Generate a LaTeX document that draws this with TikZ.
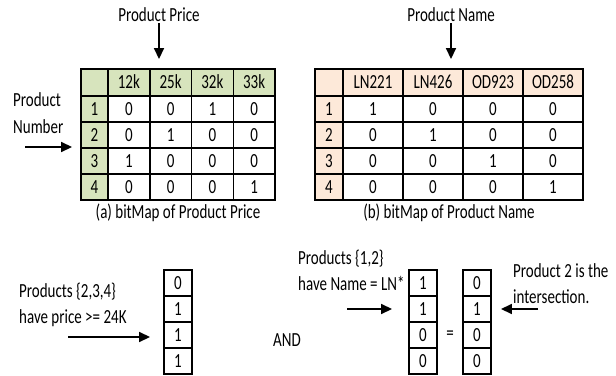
\documentclass[tikz,border=0pt]{standalone}
\usepackage{fontspec}
\setmainfont{Carlito}[FakeStretch=0.75]
\usetikzlibrary{matrix, positioning, arrows.meta}
\definecolor{pricegreen}{RGB}{215,228,189}
\definecolor{namepeach}{RGB}{253,233,217}
\tikzset{
  mcell/.style={draw, line width=1.5bp, minimum height=26bp, inner sep=0pt,
                text height=12.5bp, text depth=0pt, anchor=center},
  mtab/.style={matrix of nodes, nodes in empty cells, inner sep=0pt,
               column sep=-1.5bp, row sep=-1.5bp},
  mvec/.style={mtab, nodes={mcell, minimum width=28bp}},
  mtxt/.style={align=left, inner sep=1bp},   % two-line notes
  marr/.style={-{Triangle[length=11bp, width=10bp]}, line width=1.6bp},
}

\begin{document}
\begin{tikzpicture}[x=1bp, y=1bp, font=\fontsize{20bp}{26bp}\selectfont]
  \useasboundingbox (0,0) rectangle (616,375);
  % top: the two bitmaps
  \matrix (pm) [mtab, nodes={mcell, minimum width=41.75bp},
      column 1/.style={nodes={fill=pricegreen, minimum width=27bp}},
      row 1/.style={nodes={fill=pricegreen, minimum height=27bp}}] at (178,240.5) {
     & 12k & 25k & 32k & 33k \\
    1 & 0 & 0 & 1 & 0 \\
    2 & 0 & 1 & 0 & 0 \\
    3 & 1 & 0 & 0 & 0 \\
    4 & 0 & 0 & 0 & 1 \\
  };
  \matrix (nm) [mtab, nodes={mcell, minimum width=60bp},
      column 1/.style={nodes={fill=namepeach, minimum width=28bp}},
      row 1/.style={nodes={fill=namepeach, minimum height=27bp}}] at (449,240.5) {
     & LN221 & LN426 & OD923 & OD258 \\
    1 & 1 & 0 & 0 & 0 \\
    2 & 0 & 1 & 0 & 0 \\
    3 & 0 & 0 & 1 & 0 \\
    4 & 0 & 0 & 0 & 1 \\
  };
  \node[inner sep=1bp] (pp) at (159,360) {Product Price};
  \node[inner sep=1bp] (pn) at (451,360) {Product Name};
  \node[mtxt, anchor=west] (pnum) at (12,261.5) {Product\\[1bp]Number};
  \coordinate (numtail) at (25,228);
  \node[below=2bp of pm, inner sep=1bp] (capa) {(a) bitMap of Product Price};
  \node[below=2bp of nm, inner sep=1bp] (capb) {(b) bitMap of Product Name};
  \draw[marr, shorten >=9bp] (pp.south) -- (pp.south |- pm.north);
  \draw[marr, shorten >=9bp] (pn.south) -- (pn.south |- nm.north);
  \draw[marr, shorten >=8bp] (numtail) -- (numtail -| pm.west);

  % bottom: price AND name = result
  \matrix (va) [mvec] at (178,53) {0\\1\\1\\1\\};
  \matrix (vb) [mvec] at (423,53) {1\\1\\0\\0\\};
  \matrix (vc) [mvec] at (477,53) {0\\1\\0\\0\\};
  \node[mtxt, anchor=west] (pa) at (18,70) {Products \{2,3,4\}\\have price >= 24K};
  \node[mtxt, anchor=west] (pb) at (297,104.5) {Products \{1,2\}\\have Name = LN*};
  \node[mtxt, anchor=west] (pc) at (512,91) {Product 2 is the\\intersection.};
  \node (and) at (287,35) {AND};
  \node (eq) at (450,40) {=};
  \coordinate (atail) at (68,38);
  \coordinate (btail) at (347,66);
  \coordinate (ctail) at (538,66);
  \draw[marr, shorten >=13bp] (atail) -- (atail -| va.west);
  \draw[marr, shorten >=16bp] (btail) -- (btail -| vb.west);
  \draw[marr, shorten >=9bp] (ctail) -- (ctail -| vc.east);
\end{tikzpicture}
\end{document}
